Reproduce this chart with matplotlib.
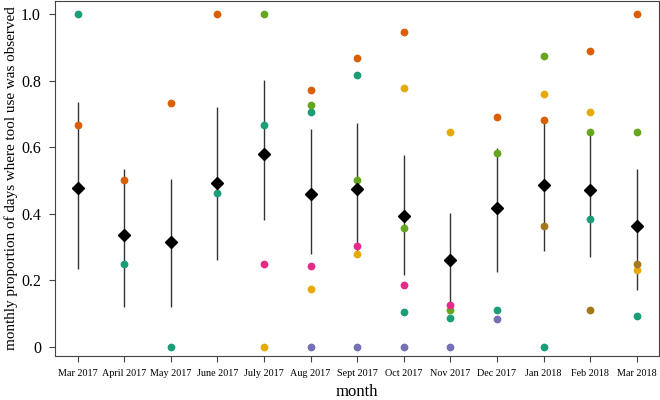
import numpy as np
import matplotlib
matplotlib.use("Agg")
import matplotlib.pyplot as plt

nan = np.nan

# months on the x axis
months = ['Mar 2017', 'April 2017', 'May 2017', 'June 2017', 'July 2017',
          'Aug 2017', 'Sept 2017', 'Oct 2017', 'Nov 2017', 'Dec 2017',
          'Jan 2018', 'Feb 2018', 'Mar 2018']

# per-individual proportions (one colour each)
teal = [1.0, 0.25, 0.0, 0.462, 0.667, 0.706, 0.818, 0.105, 0.086, 0.111, 0.0, 0.385, 0.091]
orange = [0.667, 0.5, 0.733, 1.0, nan, 0.773, 0.867, 0.947, nan, 0.692, 0.682, 0.889, 1.0]
green = [nan, nan, nan, nan, 1.0, 0.727, 0.5, 0.357, 0.111, 0.583, 0.875, 0.647, 0.647]
pink = [nan, nan, nan, nan, 0.25, 0.242, 0.304, 0.185, 0.125, nan, nan, nan, nan]
yellow = [nan, nan, nan, nan, 0.0, 0.174, 0.28, 0.778, 0.647, nan, 0.76, 0.706, 0.231]
purple = [nan, nan, nan, nan, nan, 0.0, 0.0, 0.0, 0.0, 0.083, nan, nan, nan]
brown = [nan, nan, nan, nan, nan, nan, nan, nan, nan, nan, 0.364, 0.111, 0.25]

# monthly mean and interval
mean = [0.477, 0.335, 0.315, 0.493, 0.58, 0.46, 0.475, 0.393, 0.262, 0.417, 0.487, 0.47, 0.364]
lower = [0.235, 0.118, 0.12, 0.26, 0.38, 0.28, 0.28, 0.217, 0.116, 0.225, 0.287, 0.27, 0.17]
upper = [0.735, 0.535, 0.503, 0.72, 0.802, 0.655, 0.673, 0.575, 0.403, 0.598, 0.685, 0.651, 0.533]

plt.rcParams['font.family'] = ['Liberation Serif', 'DejaVu Serif']

fig = plt.figure(figsize=(6.6, 4.0), dpi=100)
ax = fig.add_axes([0.083, 0.11, 0.915, 0.888])

x = np.arange(len(months))

ax.vlines(x, lower, upper, color='#333333', linewidth=1.0, zorder=1)

series = [(teal, '#1b9e77'), (orange, '#d95f02'), (green, '#66a61e'),
          (pink, '#e7298a'), (yellow, '#e6ab02'), (purple, '#7570b3'),
          (brown, '#a6761d')]
for vals, col in series:
    ax.plot(x, vals, 'o', color=col, markersize=5.6, markeredgewidth=0, zorder=2)

ax.plot(x, mean, 'D', color='black', markersize=6, zorder=3)

ax.set_xlim(-0.49, 12.47)
ax.set_ylim(-0.028, 1.04)
ax.set_xticks(x)
ax.set_xticklabels(months, fontsize=7.3)
ax.tick_params(axis='x', pad=5)
ax.set_yticks([0, 0.2, 0.4, 0.6, 0.8, 1.0])
ax.set_yticklabels(['0', '0.2', '0.4', '0.6', '0.8', '1.0'], fontsize=11.5)
ax.tick_params(axis='y', pad=6)
ax.tick_params(direction='out', length=4, color='#444444')
for s in ax.spines.values():
    s.set_color('#444444')

ax.set_xlabel('month', fontsize=12, labelpad=5)
ax.set_ylabel('monthly proportion of days where tool use was observed', fontsize=10.9, labelpad=2)

plt.savefig("out.png")
